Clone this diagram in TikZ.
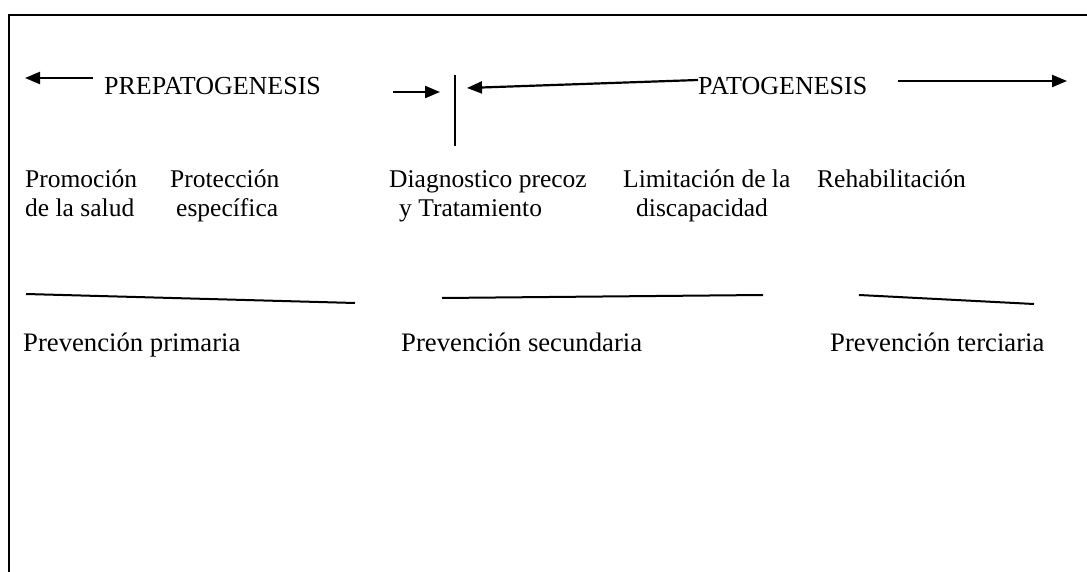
\documentclass[tikz,border=0pt]{standalone}
\usepackage{fontspec}
\setmainfont{Liberation Serif}
\usetikzlibrary{arrows.meta}
\begin{document}
\begin{tikzpicture}[x=1pt,y=-1pt,
  lbl/.style={anchor=base west,inner sep=0pt,font=\fontsize{26}{30}\selectfont},
  lblb/.style={anchor=base west,inner sep=0pt,font=\fontsize{25.5}{29}\selectfont},
  lblc/.style={anchor=base west,inner sep=0pt,font=\fontsize{26.7}{30}\selectfont},
  arr/.style={line width=2.2pt,-{Triangle[length=15pt,width=12pt]}},
  rulel/.style={line width=2pt},
  framel/.style={line width=2.5pt}]
\useasboundingbox (0,0) rectangle (1087,572);
% frame
\coordinate (fb) at (9,572);
\coordinate (ftl) at (9,15);
\coordinate (ftr) at (1087,15);
\draw[framel] (fb) -- (ftl) -- (ftr);
% top labels
\node[lbl] (prep) at (104,95) {PREPATOGENESIS};
\node[lbl] (pato) at (698,95) {PATOGENESIS};
% arrows
\coordinate (a1s) at (93,78);
\coordinate (a1e) at (25,78);
\draw[arr] (a1s) -- (a1e);
\coordinate (a2s) at (393,92);
\coordinate (a2e) at (440,92);
\draw[arr] (a2s) -- (a2e);
\coordinate (vt) at (455,75);
\coordinate (vb) at (455,146);
\draw[line width=2pt] (vt) -- (vb);
\coordinate (a3s) at (698,80);
\coordinate (a3e) at (467,88);
\draw[arr] (a3s) -- (a3e);
\coordinate (a4s) at (898,81);
\coordinate (a4e) at (1067,81);
\draw[arr] (a4s) -- (a4e);
% second row
\node[lblb] (promo1) at (25,188) {Promoción};
\node[lblb] (promo2) at (25,217) {de la salud};
\node[lblb] (prot1) at (170,188) {Protección};
\node[lblb] (prot2) at (176,217) {específica};
\node[lblb] (diag1) at (389,188) {Diagnostico precoz};
\node[lblb] (diag2) at (399,217) {y Tratamiento};
\node[lblb] (lim1) at (623,188) {Limitación de la};
\node[lblb] (lim2) at (636,217) {discapacidad};
\node[lblb] (reh) at (817,188) {Rehabilitación};
% lower rules
\coordinate (r1a) at (26,294);
\coordinate (r1b) at (355,303);
\draw[rulel] (r1a) -- (r1b);
\coordinate (r2a) at (442,298);
\coordinate (r2b) at (763,295);
\draw[rulel] (r2a) -- (r2b);
\coordinate (r3a) at (859,295);
\coordinate (r3b) at (1034,304);
\draw[rulel] (r3a) -- (r3b);
% lower labels
\node[lblc] (prim) at (23,351) {Prevención primaria};
\node[lblc] (secu) at (401,351) {Prevención secundaria};
\node[lblc] (terc) at (830,351) {Prevención terciaria};
\end{tikzpicture}
\end{document}
